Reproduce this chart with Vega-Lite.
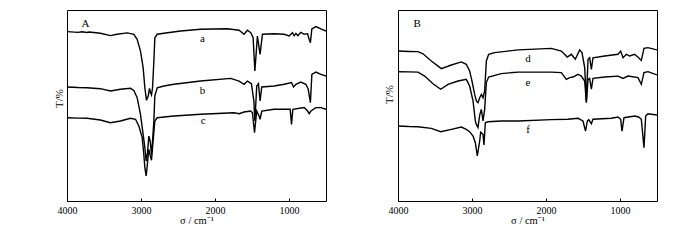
{
  "$schema": "https://vega.github.io/schema/vega-lite/v6.json",
  "padding": {"left": 52, "top": 9, "right": 0, "bottom": 0},
  "background": "white",
  "spacing": 72,
  "bounds": "flush",
  "config": {
    "view": {"stroke": "black", "strokeWidth": 1},
    "axis": {"grid": false, "domain": false, "labelFont": "Liberation Serif", "titleFont": "Liberation Serif", "labelColor": "black", "titleColor": "black", "titleFontWeight": "normal", "tickColor": "black"}
  },
  "datasets": {
    "A": [
      {"w": 4000, "T": 88.7, "s": "a"}, {"w": 3850, "T": 88.3, "s": "a"}, {"w": 3800, "T": 88.6, "s": "a"}, {"w": 3729, "T": 88.2, "s": "a"}, {"w": 3700, "T": 88.5, "s": "a"}, {"w": 3549, "T": 87.8, "s": "a"}, {"w": 3413, "T": 86.6, "s": "a"}, {"w": 3323, "T": 87.3, "s": "a"}, {"w": 3187, "T": 88.0, "s": "a"}, {"w": 3097, "T": 87.3, "s": "a"}, {"w": 3052, "T": 84.6, "s": "a"}, {"w": 3007, "T": 78.5, "s": "a"}, {"w": 2971, "T": 69.8, "s": "a"}, {"w": 2948, "T": 59.3, "s": "a"}, {"w": 2926, "T": 52.7, "s": "a"}, {"w": 2903, "T": 55.0, "s": "a"}, {"w": 2885, "T": 59.0, "s": "a"}, {"w": 2871, "T": 56.7, "s": "a"}, {"w": 2858, "T": 55.5, "s": "a"}, {"w": 2844, "T": 59.3, "s": "a"}, {"w": 2826, "T": 73.3, "s": "a"}, {"w": 2813, "T": 85.5, "s": "a"}, {"w": 2781, "T": 87.3, "s": "a"}, {"w": 2691, "T": 87.8, "s": "a"}, {"w": 2465, "T": 89.0, "s": "a"}, {"w": 2194, "T": 89.9, "s": "a"}, {"w": 1833, "T": 90.2, "s": "a"}, {"w": 1675, "T": 89.4, "s": "a"}, {"w": 1607, "T": 87.3, "s": "a"}, {"w": 1562, "T": 89.4, "s": "a"}, {"w": 1517, "T": 88.1, "s": "a"}, {"w": 1485, "T": 85.5, "s": "a"}, {"w": 1461, "T": 68.1, "s": "a"}, {"w": 1427, "T": 86.4, "s": "a"}, {"w": 1391, "T": 76.8, "s": "a"}, {"w": 1359, "T": 87.3, "s": "a"}, {"w": 1201, "T": 87.6, "s": "a"}, {"w": 1065, "T": 87.3, "s": "a"}, {"w": 998, "T": 86.4, "s": "a"}, {"w": 953, "T": 88.1, "s": "a"}, {"w": 930, "T": 86.5, "s": "a"}, {"w": 907, "T": 87.8, "s": "a"}, {"w": 880, "T": 86.6, "s": "a"}, {"w": 840, "T": 88.3, "s": "a"}, {"w": 795, "T": 87.3, "s": "a"}, {"w": 749, "T": 87.6, "s": "a"}, {"w": 727, "T": 84.6, "s": "a"}, {"w": 711, "T": 82.9, "s": "a"}, {"w": 691, "T": 90.1, "s": "a"}, {"w": 637, "T": 91.3, "s": "a"}, {"w": 569, "T": 90.1, "s": "a"}, {"w": 500, "T": 89.0, "s": "a"},
      {"w": 4000, "T": 59.7, "s": "b"}, {"w": 3850, "T": 59.4, "s": "b"}, {"w": 3729, "T": 59.3, "s": "b"}, {"w": 3549, "T": 58.8, "s": "b"}, {"w": 3413, "T": 57.6, "s": "b"}, {"w": 3278, "T": 58.5, "s": "b"}, {"w": 3142, "T": 59.0, "s": "b"}, {"w": 3097, "T": 57.9, "s": "b"}, {"w": 3052, "T": 54.1, "s": "b"}, {"w": 3007, "T": 45.4, "s": "b"}, {"w": 2971, "T": 34.9, "s": "b"}, {"w": 2948, "T": 27.9, "s": "b"}, {"w": 2930, "T": 20.9, "s": "b"}, {"w": 2912, "T": 25.3, "s": "b"}, {"w": 2894, "T": 34.0, "s": "b"}, {"w": 2876, "T": 31.4, "s": "b"}, {"w": 2858, "T": 24.4, "s": "b"}, {"w": 2844, "T": 31.4, "s": "b"}, {"w": 2826, "T": 41.9, "s": "b"}, {"w": 2813, "T": 55.0, "s": "b"}, {"w": 2781, "T": 59.3, "s": "b"}, {"w": 2691, "T": 60.2, "s": "b"}, {"w": 2555, "T": 61.1, "s": "b"}, {"w": 2194, "T": 62.8, "s": "b"}, {"w": 1788, "T": 64.2, "s": "b"}, {"w": 1675, "T": 62.8, "s": "b"}, {"w": 1607, "T": 61.1, "s": "b"}, {"w": 1562, "T": 62.8, "s": "b"}, {"w": 1508, "T": 61.4, "s": "b"}, {"w": 1475, "T": 52.4, "s": "b"}, {"w": 1461, "T": 41.9, "s": "b"}, {"w": 1436, "T": 60.2, "s": "b"}, {"w": 1413, "T": 61.4, "s": "b"}, {"w": 1391, "T": 52.4, "s": "b"}, {"w": 1368, "T": 59.7, "s": "b"}, {"w": 1201, "T": 60.2, "s": "b"}, {"w": 1065, "T": 61.1, "s": "b"}, {"w": 966, "T": 62.0, "s": "b"}, {"w": 939, "T": 59.7, "s": "b"}, {"w": 907, "T": 61.1, "s": "b"}, {"w": 840, "T": 62.3, "s": "b"}, {"w": 772, "T": 61.1, "s": "b"}, {"w": 740, "T": 58.5, "s": "b"}, {"w": 711, "T": 51.5, "s": "b"}, {"w": 691, "T": 66.3, "s": "b"}, {"w": 637, "T": 67.5, "s": "b"}, {"w": 569, "T": 66.3, "s": "b"}, {"w": 500, "T": 65.4, "s": "b"},
      {"w": 4000, "T": 43.6, "s": "c"}, {"w": 3850, "T": 43.4, "s": "c"}, {"w": 3729, "T": 43.3, "s": "c"}, {"w": 3549, "T": 42.4, "s": "c"}, {"w": 3413, "T": 41.0, "s": "c"}, {"w": 3278, "T": 41.9, "s": "c"}, {"w": 3142, "T": 43.3, "s": "c"}, {"w": 3074, "T": 42.8, "s": "c"}, {"w": 3029, "T": 39.3, "s": "c"}, {"w": 2984, "T": 33.2, "s": "c"}, {"w": 2962, "T": 24.4, "s": "c"}, {"w": 2948, "T": 17.5, "s": "c"}, {"w": 2930, "T": 13.1, "s": "c"}, {"w": 2912, "T": 20.0, "s": "c"}, {"w": 2894, "T": 27.0, "s": "c"}, {"w": 2876, "T": 24.0, "s": "c"}, {"w": 2858, "T": 21.3, "s": "c"}, {"w": 2844, "T": 28.0, "s": "c"}, {"w": 2826, "T": 36.0, "s": "c"}, {"w": 2813, "T": 41.9, "s": "c"}, {"w": 2781, "T": 43.6, "s": "c"}, {"w": 2555, "T": 44.5, "s": "c"}, {"w": 2194, "T": 45.4, "s": "c"}, {"w": 1743, "T": 46.2, "s": "c"}, {"w": 1675, "T": 45.7, "s": "c"}, {"w": 1607, "T": 46.6, "s": "c"}, {"w": 1517, "T": 47.1, "s": "c"}, {"w": 1494, "T": 46.2, "s": "c"}, {"w": 1466, "T": 35.8, "s": "c"}, {"w": 1436, "T": 47.1, "s": "c"}, {"w": 1404, "T": 44.5, "s": "c"}, {"w": 1391, "T": 42.8, "s": "c"}, {"w": 1368, "T": 47.1, "s": "c"}, {"w": 1201, "T": 48.0, "s": "c"}, {"w": 984, "T": 48.0, "s": "c"}, {"w": 966, "T": 40.1, "s": "c"}, {"w": 948, "T": 48.0, "s": "c"}, {"w": 795, "T": 48.9, "s": "c"}, {"w": 749, "T": 47.1, "s": "c"}, {"w": 727, "T": 45.7, "s": "c"}, {"w": 704, "T": 47.1, "s": "c"}, {"w": 637, "T": 48.9, "s": "c"}, {"w": 569, "T": 48.9, "s": "c"}, {"w": 500, "T": 48.0, "s": "c"}
    ],
    "B": [
      {"w": 4000, "T": 78.5, "s": "d"}, {"w": 3850, "T": 78.3, "s": "d"}, {"w": 3730, "T": 78.2, "s": "d"}, {"w": 3662, "T": 77.1, "s": "d"}, {"w": 3550, "T": 73.3, "s": "d"}, {"w": 3414, "T": 69.3, "s": "d"}, {"w": 3279, "T": 71.2, "s": "d"}, {"w": 3144, "T": 72.8, "s": "d"}, {"w": 3077, "T": 71.6, "s": "d"}, {"w": 3032, "T": 68.1, "s": "d"}, {"w": 3000, "T": 62.8, "s": "d"}, {"w": 2964, "T": 55.8, "s": "d"}, {"w": 2941, "T": 52.4, "s": "d"}, {"w": 2919, "T": 51.5, "s": "d"}, {"w": 2896, "T": 54.1, "s": "d"}, {"w": 2874, "T": 55.8, "s": "d"}, {"w": 2851, "T": 54.1, "s": "d"}, {"w": 2829, "T": 57.6, "s": "d"}, {"w": 2806, "T": 73.3, "s": "d"}, {"w": 2775, "T": 76.8, "s": "d"}, {"w": 2694, "T": 77.7, "s": "d"}, {"w": 2378, "T": 79.1, "s": "d"}, {"w": 1928, "T": 79.9, "s": "d"}, {"w": 1793, "T": 78.5, "s": "d"}, {"w": 1712, "T": 75.4, "s": "d"}, {"w": 1658, "T": 76.8, "s": "d"}, {"w": 1604, "T": 74.2, "s": "d"}, {"w": 1545, "T": 79.1, "s": "d"}, {"w": 1514, "T": 77.7, "s": "d"}, {"w": 1477, "T": 69.8, "s": "d"}, {"w": 1455, "T": 52.4, "s": "d"}, {"w": 1432, "T": 74.2, "s": "d"}, {"w": 1410, "T": 75.0, "s": "d"}, {"w": 1387, "T": 68.9, "s": "d"}, {"w": 1365, "T": 75.0, "s": "d"}, {"w": 1207, "T": 75.9, "s": "d"}, {"w": 1027, "T": 76.8, "s": "d"}, {"w": 991, "T": 78.5, "s": "d"}, {"w": 959, "T": 75.0, "s": "d"}, {"w": 914, "T": 76.8, "s": "d"}, {"w": 869, "T": 75.9, "s": "d"}, {"w": 802, "T": 76.8, "s": "d"}, {"w": 748, "T": 75.0, "s": "d"}, {"w": 712, "T": 73.6, "s": "d"}, {"w": 676, "T": 79.9, "s": "d"}, {"w": 622, "T": 80.3, "s": "d"}, {"w": 500, "T": 79.1, "s": "d"},
      {"w": 4000, "T": 67.7, "s": "e"}, {"w": 3850, "T": 67.6, "s": "e"}, {"w": 3730, "T": 67.5, "s": "e"}, {"w": 3640, "T": 65.4, "s": "e"}, {"w": 3527, "T": 61.4, "s": "e"}, {"w": 3423, "T": 58.5, "s": "e"}, {"w": 3324, "T": 61.1, "s": "e"}, {"w": 3189, "T": 62.8, "s": "e"}, {"w": 3077, "T": 63.7, "s": "e"}, {"w": 3032, "T": 60.2, "s": "e"}, {"w": 2986, "T": 52.4, "s": "e"}, {"w": 2955, "T": 41.9, "s": "e"}, {"w": 2941, "T": 40.1, "s": "e"}, {"w": 2919, "T": 38.5, "s": "e"}, {"w": 2896, "T": 45.0, "s": "e"}, {"w": 2874, "T": 48.0, "s": "e"}, {"w": 2851, "T": 42.0, "s": "e"}, {"w": 2829, "T": 48.0, "s": "e"}, {"w": 2806, "T": 62.0, "s": "e"}, {"w": 2775, "T": 64.9, "s": "e"}, {"w": 2604, "T": 66.7, "s": "e"}, {"w": 2378, "T": 67.5, "s": "e"}, {"w": 1928, "T": 67.5, "s": "e"}, {"w": 1793, "T": 67.2, "s": "e"}, {"w": 1725, "T": 63.7, "s": "e"}, {"w": 1680, "T": 64.6, "s": "e"}, {"w": 1635, "T": 64.9, "s": "e"}, {"w": 1568, "T": 66.3, "s": "e"}, {"w": 1523, "T": 65.4, "s": "e"}, {"w": 1477, "T": 62.8, "s": "e"}, {"w": 1455, "T": 51.5, "s": "e"}, {"w": 1432, "T": 63.7, "s": "e"}, {"w": 1410, "T": 64.2, "s": "e"}, {"w": 1387, "T": 58.5, "s": "e"}, {"w": 1365, "T": 64.2, "s": "e"}, {"w": 1207, "T": 64.9, "s": "e"}, {"w": 1027, "T": 65.4, "s": "e"}, {"w": 959, "T": 64.2, "s": "e"}, {"w": 892, "T": 65.4, "s": "e"}, {"w": 757, "T": 64.6, "s": "e"}, {"w": 712, "T": 61.1, "s": "e"}, {"w": 676, "T": 67.2, "s": "e"}, {"w": 622, "T": 67.7, "s": "e"}, {"w": 500, "T": 66.0, "s": "e"},
      {"w": 4000, "T": 39.3, "s": "f"}, {"w": 3850, "T": 39.0, "s": "f"}, {"w": 3730, "T": 38.9, "s": "f"}, {"w": 3550, "T": 38.0, "s": "f"}, {"w": 3423, "T": 36.3, "s": "f"}, {"w": 3279, "T": 37.5, "s": "f"}, {"w": 3144, "T": 38.7, "s": "f"}, {"w": 3077, "T": 37.5, "s": "f"}, {"w": 3032, "T": 36.3, "s": "f"}, {"w": 2986, "T": 34.0, "s": "f"}, {"w": 2955, "T": 30.5, "s": "f"}, {"w": 2928, "T": 23.6, "s": "f"}, {"w": 2896, "T": 31.4, "s": "f"}, {"w": 2883, "T": 36.0, "s": "f"}, {"w": 2851, "T": 34.9, "s": "f"}, {"w": 2838, "T": 29.3, "s": "f"}, {"w": 2820, "T": 41.0, "s": "f"}, {"w": 2784, "T": 41.5, "s": "f"}, {"w": 2604, "T": 41.9, "s": "f"}, {"w": 2378, "T": 41.9, "s": "f"}, {"w": 1928, "T": 42.6, "s": "f"}, {"w": 1703, "T": 42.8, "s": "f"}, {"w": 1568, "T": 43.3, "s": "f"}, {"w": 1500, "T": 41.9, "s": "f"}, {"w": 1466, "T": 36.6, "s": "f"}, {"w": 1441, "T": 41.9, "s": "f"}, {"w": 1423, "T": 42.6, "s": "f"}, {"w": 1387, "T": 40.5, "s": "f"}, {"w": 1365, "T": 42.8, "s": "f"}, {"w": 1117, "T": 43.3, "s": "f"}, {"w": 1027, "T": 44.0, "s": "f"}, {"w": 991, "T": 42.8, "s": "f"}, {"w": 973, "T": 36.6, "s": "f"}, {"w": 946, "T": 43.6, "s": "f"}, {"w": 802, "T": 44.5, "s": "f"}, {"w": 748, "T": 44.0, "s": "f"}, {"w": 712, "T": 42.8, "s": "f"}, {"w": 676, "T": 27.9, "s": "f"}, {"w": 653, "T": 44.5, "s": "f"}, {"w": 622, "T": 45.7, "s": "f"}, {"w": 500, "T": 45.0, "s": "f"}
    ],
    "labA": [
      {"w": 3752, "T": 92.5, "t": "A"}, {"w": 2170, "T": 85.0, "t": "a"}, {"w": 2170, "T": 57.5, "t": "b"}, {"w": 2160, "T": 41.8, "t": "c"}
    ],
    "labB": [
      {"w": 3740, "T": 92.5, "t": "B"}, {"w": 2243, "T": 74.2, "t": "d"}, {"w": 2243, "T": 61.8, "t": "e"}, {"w": 2243, "T": 37.4, "t": "f"}
    ]
  },
  "hconcat": [
    {
      "width": 259,
      "height": 191,
      "layer": [
        {
          "data": {"name": "A"},
          "mark": {"type": "line", "color": "black", "strokeWidth": 1.4, "clip": true},
          "encoding": {
            "x": {"field": "w", "type": "quantitative", "scale": {"domain": [4000, 500], "nice": false, "zero": false},
              "axis": {"values": [4000, 3750, 3500, 3250, 3000, 2750, 2500, 2250, 2000, 1750, 1500, 1250, 1000, 750, 500], "labelExpr": "datum.value % 1000 == 0 ? format(datum.value, 'd') : ''", "labelOverlap": false, "offset": -3, "tickSize": 3, "tickWidth": 1, "labelPadding": 4, "labelFontSize": 10, "labelFlush": false, "title": "σ / cm⁻¹", "titleFontSize": 10.5, "titlePadding": 0}},
            "y": {"field": "T", "type": "quantitative", "scale": {"domain": [0, 100], "nice": false, "zero": false},
              "axis": {"ticks": false, "labels": false, "title": "T/%", "titleFontSize": 11, "titlePadding": 3, "titleY": 88}},
            "detail": {"field": "s"}
          }
        },
        {
          "data": {"name": "labA"},
          "mark": {"type": "text", "font": "Liberation Serif", "fontSize": 11, "color": "black"},
          "encoding": {
            "x": {"field": "w", "type": "quantitative"},
            "y": {"field": "T", "type": "quantitative"},
            "text": {"field": "t"}
          }
        }
      ]
    },
    {
      "width": 259,
      "height": 191,
      "layer": [
        {
          "data": {"name": "B"},
          "mark": {"type": "line", "color": "black", "strokeWidth": 1.4, "clip": true},
          "encoding": {
            "x": {"field": "w", "type": "quantitative", "scale": {"domain": [4000, 500], "nice": false, "zero": false},
              "axis": {"values": [4000, 3750, 3500, 3250, 3000, 2750, 2500, 2250, 2000, 1750, 1500, 1250, 1000, 750, 500], "labelExpr": "datum.value % 1000 == 0 ? format(datum.value, 'd') : ''", "labelOverlap": false, "offset": -3, "tickSize": 3, "tickWidth": 1, "labelPadding": 4, "labelFontSize": 10, "labelFlush": false, "title": "σ / cm⁻¹", "titleFontSize": 10.5, "titlePadding": 0}},
            "y": {"field": "T", "type": "quantitative", "scale": {"domain": [0, 100], "nice": false, "zero": false},
              "axis": {"ticks": false, "labels": false, "title": "T/%", "titleFontSize": 11, "titlePadding": 4, "titleY": 84}},
            "detail": {"field": "s"}
          }
        },
        {
          "data": {"name": "labB"},
          "mark": {"type": "text", "font": "Liberation Serif", "fontSize": 11, "color": "black"},
          "encoding": {
            "x": {"field": "w", "type": "quantitative"},
            "y": {"field": "T", "type": "quantitative"},
            "text": {"field": "t"}
          }
        }
      ]
    }
  ]
}
